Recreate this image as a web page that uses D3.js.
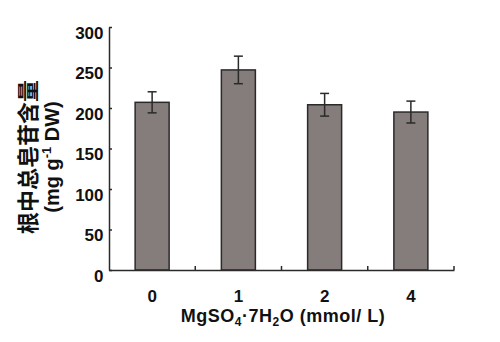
<!DOCTYPE html>
<html><head><meta charset="utf-8">
<script src="https://cdn.jsdelivr.net/npm/d3@7"></script>
<style>body{margin:0;background:#fff}</style>
</head><body>
<svg id="c" width="500" height="342"></svg>
<script>
const categories = ["0", "1", "2", "4"];
const values = [207, 247, 204, 195];
const errors = [13, 17, 14, 13.5];
const yTicks = [0, 50, 100, 150, 200, 250, 300];

(function () {
const svg = d3.select("#c");
const mLeft = 109, mRight = 454, mTop = 27, mBottom = 270;
const xb = d3.scaleBand().domain(categories).range([mLeft, mRight]);
const y = d3.scaleLinear().domain([0, 300]).range([mBottom, mTop]);
const ink = "#2a2a2a";
const font = "'Liberation Sans', Arial, sans-serif";

// bars
svg.selectAll("rect.bar").data(values).enter().append("rect")
  .attr("x", (d, i) => xb(categories[i]) + xb.bandwidth() / 2 - 17)
  .attr("width", 34)
  .attr("y", d => y(d))
  .attr("height", d => y(0) - y(d))
  .attr("fill", "#857d7c").attr("stroke", ink).attr("stroke-width", 1.5);

// error bars
const eg = svg.append("g").attr("stroke", ink).attr("stroke-width", 1.5);
values.forEach((v, i) => {
  const cx = xb(categories[i]) + xb.bandwidth() / 2;
  eg.append("line").attr("x1", cx).attr("x2", cx).attr("y1", y(v + errors[i])).attr("y2", y(v - errors[i]));
  eg.append("line").attr("x1", cx - 4.5).attr("x2", cx + 4.5).attr("y1", y(v + errors[i])).attr("y2", y(v + errors[i]));
  eg.append("line").attr("x1", cx - 4.5).attr("x2", cx + 4.5).attr("y1", y(v - errors[i])).attr("y2", y(v - errors[i]));
});

// y axis
const ya = svg.append("g").attr("transform", `translate(${mLeft},0)`)
  .call(d3.axisLeft(y).tickValues(yTicks).tickSizeInner(-3).tickSizeOuter(0).tickPadding(5.5));
ya.select(".domain").attr("stroke", ink).attr("stroke-width", 1.5);
ya.selectAll(".tick line").attr("stroke", ink).attr("stroke-width", 1.5);
ya.selectAll(".tick text").attr("font-family", font).attr("font-weight", "bold")
  .attr("font-size", 17).attr("fill", "#111").attr("y", 6);

// x axis
const xa = svg.append("g").attr("transform", `translate(0,${mBottom})`)
  .call(d3.axisBottom(xb).tickSize(0).tickPadding(20));
xa.select(".domain").attr("stroke", ink).attr("stroke-width", 1.5);
xa.selectAll(".tick text").attr("font-family", font).attr("font-weight", "bold")
  .attr("font-size", 17).attr("fill", "#111");
const bounds = categories.slice(1).map(c => xb(c)).concat([mRight]);
svg.append("g").selectAll("line").data(bounds).enter().append("line")
  .attr("x1", d => d).attr("x2", d => d).attr("y1", mBottom).attr("y2", mBottom - 4)
  .attr("stroke", ink).attr("stroke-width", 1.5);

// x title
const xt = svg.append("text").attr("x", 283).attr("y", 322).attr("text-anchor", "middle")
  .attr("font-family", font).attr("font-weight", "bold").attr("font-size", 18)
  .attr("letter-spacing", 0.5).attr("fill", "#111");
xt.append("tspan").text("MgSO");
xt.append("tspan").text("4").attr("font-size", 12).attr("dy", 4);
xt.append("tspan").text("·7H").attr("dy", -4);
xt.append("tspan").text("2").attr("font-size", 12).attr("dy", 4);
xt.append("tspan").text("O (mmol/ L)").attr("dy", -4);

// y title
svg.append("text").attr("transform", "translate(36,157) rotate(-90)")
  .attr("text-anchor", "middle").attr("font-family", "'Noto Sans CJK SC', sans-serif")
  .attr("font-weight", "bold").attr("font-size", 22).attr("fill", "#111").text("根中总皂苷含量");
const yt2 = svg.append("text").attr("transform", "translate(59,157) rotate(-90)")
  .attr("text-anchor", "middle").attr("font-family", font)
  .attr("font-weight", "bold").attr("font-size", 20).attr("fill", "#111");
yt2.append("tspan").text("(mg g");
yt2.append("tspan").text("-1").attr("font-size", 13).attr("dy", -8);
yt2.append("tspan").text(" DW)").attr("dy", 8);
})();
</script>
</body></html>
